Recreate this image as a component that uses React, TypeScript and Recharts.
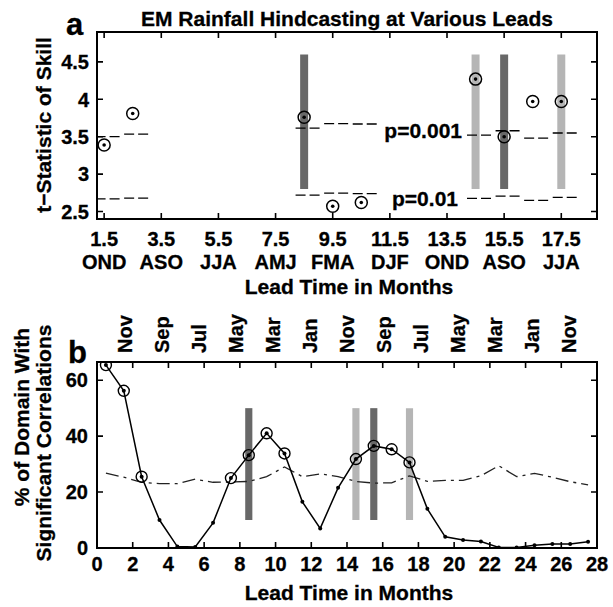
import React from 'react';
import { ComposedChart, Line, Scatter, XAxis, YAxis, ReferenceLine, ReferenceArea } from 'recharts';

// panel a: t-statistic of skill at each lead
const leadsA = [1.5, 2.5, 8.5, 9.5, 10.5, 14.5, 15.5, 16.5, 17.5];
const skillA = [3.39, 3.81, 3.76, 2.57, 2.62, 4.27, 3.5, 3.97, 3.97];
const p001A = [3.5, 3.535, 3.615, 3.675, 3.67, 3.52, 3.58, 3.48, 3.55];
const p01A = [2.67, 2.68, 2.72, 2.745, 2.74, 2.675, 2.705, 2.65, 2.69];
const leadTicksA = [1.5, 3.5, 5.5, 7.5, 9.5, 11.5, 13.5, 15.5, 17.5];
const seasonsA = ['OND', 'ASO', 'JJA', 'AMJ', 'FMA', 'DJF', 'OND', 'ASO', 'JJA'];
const yTicksA = [2.5, 3, 3.5, 4, 4.5];

// grey bands at the highlighted leads (both panels)
const bandLeads = [8.5, 14.5, 15.5, 17.5];
const bandTones = ['dark', 'light', 'dark', 'light'];
const bandRangeA = [2.8, 4.6];
const bandRangeB = [10, 50];

// panel b: % of domain with significant correlations
const leadsB = [0.5, 1.5, 2.5, 3.5, 4.5, 5.5, 6.5, 7.5, 8.5, 9.5, 10.5, 11.5, 12.5, 13.5,
  14.5, 15.5, 16.5, 17.5, 18.5, 19.5, 20.5, 21.5, 22.5, 23.5, 24.5, 25.5, 26.5, 27.5];
const pctB = [65.4, 56.2, 25.5, 10.0, 0.5, 0.4, 9.0, 25.0, 33.2, 41.0, 33.8, 16.5, 7.0, 21.5,
  31.8, 36.5, 35.3, 30.6, 14.0, 4.0, 2.9, 2.3, 0.2, 0.2, 1.0, 1.4, 1.4, 2.2];
const thrB = [26.8, 25.3, 23.5, 23.0, 23.0, 24.6, 23.5, 23.6, 23.8, 25.5, 29.0, 25.5, 26.5, 25.5,
  23.8, 23.2, 23.3, 25.8, 23.8, 24.2, 24.2, 25.8, 29.4, 25.5, 26.7, 25.3, 23.7, 22.6];
const circledB = [0.5, 1.5, 2.5, 7.5, 8.5, 9.5, 10.5, 14.5, 15.5, 16.5, 17.5];
const xTicksB = [0, 2, 4, 6, 8, 10, 12, 14, 16, 18, 20, 22, 24, 26, 28];
const yTicksB = [0, 20, 40, 60];
const monthTicksB = [1.5, 3.5, 5.5, 7.5, 9.5, 11.5, 13.5, 15.5, 17.5, 19.5, 21.5, 23.5, 25.5];
const monthsB = ['Nov', 'Sep', 'Jul', 'May', 'Mar', 'Jan', 'Nov', 'Sep', 'Jul', 'May', 'Mar', 'Jan', 'Nov'];

const domA = { x: [1.25, 18.75], y: [2.4, 4.9] };
const domB = { x: [0, 28], y: [0, 66.5] };

// plot boxes on the page (follow from the chart margins / axis sizes below)
const boxA = { left: 97, top: 32, w: 500, h: 187 };
const boxB = { left: 97, top: 362, w: 500, h: 186 };

const FONT = '"Liberation Sans", Arial, Helvetica, sans-serif';
const textStyle = { fontWeight: 'bold', fill: '#000', fontFamily: FONT, stroke: '#000', strokeWidth: 0.3 } as const;
const toneColor: Record<string, string> = { dark: '#686868', light: '#b5b5b5' };

const rowsA = leadsA.map((x, i) => ({ x, y: skillA[i] }));
const rowsB = leadsB.map((x, i) => ({ x, y: pctB[i], t: thrB[i], sig: circledB.includes(x) }));

function YTick(props: any) {
  const { x, y, payload } = props;
  return <text x={x} y={y} dy="0.36em" textAnchor="end" fontSize={20} {...textStyle}>{payload.value}</text>;
}

function XTick(props: any) {
  const { x, y, payload, seasons } = props;
  const i = leadTicksA.indexOf(payload.value);
  return (
    <text x={x} textAnchor="middle" fontSize={20} {...textStyle}>
      <tspan x={x} y={y + 23}>{payload.value}</tspan>
      {seasons && <tspan x={x} y={y + 46}>{seasonsA[i]}</tspan>}
    </text>
  );
}

function MonthTick(props: any) {
  const { x, y, payload } = props;
  const i = monthTicksB.indexOf(payload.value);
  return (
    <text x={x} y={y} dy="0.36em" textAnchor="start" transform={`rotate(-90 ${x} ${y})`} fontSize={20} {...textStyle}>
      {monthsB[i]}
    </text>
  );
}

function SkillMark(props: any) {
  const { cx, cy } = props;
  return (
    <g>
      <circle cx={cx} cy={cy} r={6} fill="none" stroke="#000" strokeWidth={1.5} />
      <circle cx={cx} cy={cy} r={1.8} fill="#000" />
    </g>
  );
}

function PctDot(props: any) {
  const { cx, cy, payload } = props;
  return (
    <g>
      <circle cx={cx} cy={cy} r={2} fill="#000" />
      {payload.sig && <circle cx={cx} cy={cy} r={5.5} fill="none" stroke="#000" strokeWidth={1.4} />}
    </g>
  );
}

// inward tick marks on all four sides, as one path
function TickMarks({ box, dom, xt, yt }: any) {
  const sx = (v: number) => box.left + ((v - dom.x[0]) / (dom.x[1] - dom.x[0])) * box.w;
  const sy = (v: number) => box.top + box.h - ((v - dom.y[0]) / (dom.y[1] - dom.y[0])) * box.h;
  const b = box.top + box.h;
  const r = box.left + box.w;
  let d = '';
  xt.forEach((v: number) => {
    d += ` M${sx(v)},${b} L${sx(v)},${b - 6} M${sx(v)},${box.top} L${sx(v)},${box.top + 6}`;
  });
  yt.forEach((v: number) => {
    d += ` M${box.left},${sy(v)} L${box.left + 6},${sy(v)} M${r},${sy(v)} L${r - 6},${sy(v)}`;
  });
  return <path d={d.trim()} stroke="#000" strokeWidth={1.6} fill="none" />;
}

// plain CSS box for the axes frame
function BoxBorder({ box }: any) {
  return (
    <div style={{
      position: 'absolute', left: box.left - 1, top: box.top - 1, width: box.w + 2, height: box.h + 2,
      border: '2px solid #000', boxSizing: 'border-box', zIndex: 11, pointerEvents: 'none',
    }} />
  );
}

const bare = { axisLine: false, tickLine: false, tickSize: 0, allowDataOverflow: true, interval: 0 } as const;

function PanelA() {
  return (
    <ComposedChart id="panelA" width={613} height={300} margin={{ top: 32, right: 16, bottom: 0, left: 37 }}>
      <XAxis dataKey="x" type="number" domain={domA.x} ticks={leadTicksA} {...bare}
        tickMargin={4} height={81} tick={<XTick seasons />} />
      <YAxis dataKey="y" type="number" domain={domA.y} ticks={yTicksA} {...bare}
        tickMargin={8} width={60} tick={<YTick />} />
      {bandLeads.map((l, i) => (
        <ReferenceArea key={'ba' + i} x1={l - 0.14} x2={l + 0.14} y1={bandRangeA[0]} y2={bandRangeA[1]}
          fill={toneColor[bandTones[i]]} fillOpacity={1} stroke="none" />
      ))}
      {leadsA.map((l, i) => (
        <ReferenceLine key={'h' + i} segment={[{ x: l - 0.3, y: p001A[i] }, { x: l + 0.55, y: p001A[i] }]}
          stroke="#000" strokeWidth={1.3} strokeDasharray="10 4" ifOverflow="hidden" />
      ))}
      {leadsA.map((l, i) => (
        <ReferenceLine key={'l' + i} segment={[{ x: l - 0.3, y: p01A[i] }, { x: l + 0.55, y: p01A[i] }]}
          stroke="#000" strokeWidth={1.3} strokeDasharray="10 4" ifOverflow="hidden" />
      ))}
      <Scatter data={rowsA} dataKey="y" shape={<SkillMark />} isAnimationActive={false} />
    </ComposedChart>
  );
}

function PanelB() {
  return (
    <ComposedChart id="panelB" width={613} height={317} data={rowsB} margin={{ top: 0, right: 16, bottom: 0, left: 37 }}>
      <XAxis dataKey="x" type="number" domain={domB.x} ticks={xTicksB} {...bare}
        tickMargin={0} height={59} tick={<XTick />} />
      <XAxis xAxisId="months" orientation="top" type="number" domain={domB.x} ticks={monthTicksB} {...bare}
        tickMargin={9} height={72} tick={<MonthTick />} />
      <YAxis type="number" domain={domB.y} ticks={yTicksB} {...bare}
        tickMargin={9} width={60} tick={<YTick />} />
      {bandLeads.map((l, i) => (
        <ReferenceArea key={'bb' + i} x1={l - 0.2} x2={l + 0.2} y1={bandRangeB[0]} y2={bandRangeB[1]}
          fill={toneColor[bandTones[i]]} fillOpacity={1} stroke="none" />
      ))}
      <Line dataKey="t" type="linear" stroke="#222" strokeWidth={1.3} strokeDasharray="13 5 3 5"
        dot={false} isAnimationActive={false} />
      <Line dataKey="y" type="linear" stroke="#000" strokeWidth={1.5}
        dot={(p: any) => <PctDot key={p.index} {...p} />} activeDot={false} isAnimationActive={false} />
    </ComposedChart>
  );
}

export default function App() {
  const txt = textStyle;
  return (
    <div style={{ position: 'absolute', left: 0, top: 0, width: 613, height: 607, background: '#fff', fontFamily: FONT }}>
      <div style={{ height: 290 }}><PanelA /></div>
      <div><PanelB /></div>
      <BoxBorder box={boxA} />
      <BoxBorder box={boxB} />
      <svg width={613} height={607} style={{ position: 'absolute', left: 0, top: 0, pointerEvents: 'none', zIndex: 10 }}>
        <TickMarks box={boxA} dom={domA} xt={leadTicksA} yt={yTicksA} />
        <TickMarks box={boxB} dom={domB} xt={xTicksB} yt={yTicksB} />
        <text x={66} y={35} fontSize={31} {...txt}>a</text>
        <text x={347} y={26} fontSize={21} textAnchor="middle" {...txt}>EM Rainfall Hindcasting at Various Leads</text>
        <text x={43} y={125} dy="0.36em" fontSize={21} textAnchor="middle" transform="rotate(-90 43 125)" {...txt}>t−Statistic of Skill</text>
        <text x={349} y={294} fontSize={21} textAnchor="middle" {...txt}>Lead Time in Months</text>
        <text x={462} y={138} fontSize={21} textAnchor="end" {...txt}>p=0.001</text>
        <text x={458} y={206} fontSize={21} textAnchor="end" {...txt}>p=0.01</text>
        <text x={68} y={363} fontSize={31} {...txt}>b</text>
        <text x={21} y={417} dy="0.36em" fontSize={21} textAnchor="middle" transform="rotate(-90 21 417)" {...txt}>% of Domain With</text>
        <text x={43} y={443} dy="0.36em" fontSize={21} textAnchor="middle" transform="rotate(-90 43 443)" {...txt}>Significant Correlations</text>
        <text x={349} y={600} fontSize={21} textAnchor="middle" {...txt}>Lead Time in Months</text>
      </svg>
    </div>
  );
}
